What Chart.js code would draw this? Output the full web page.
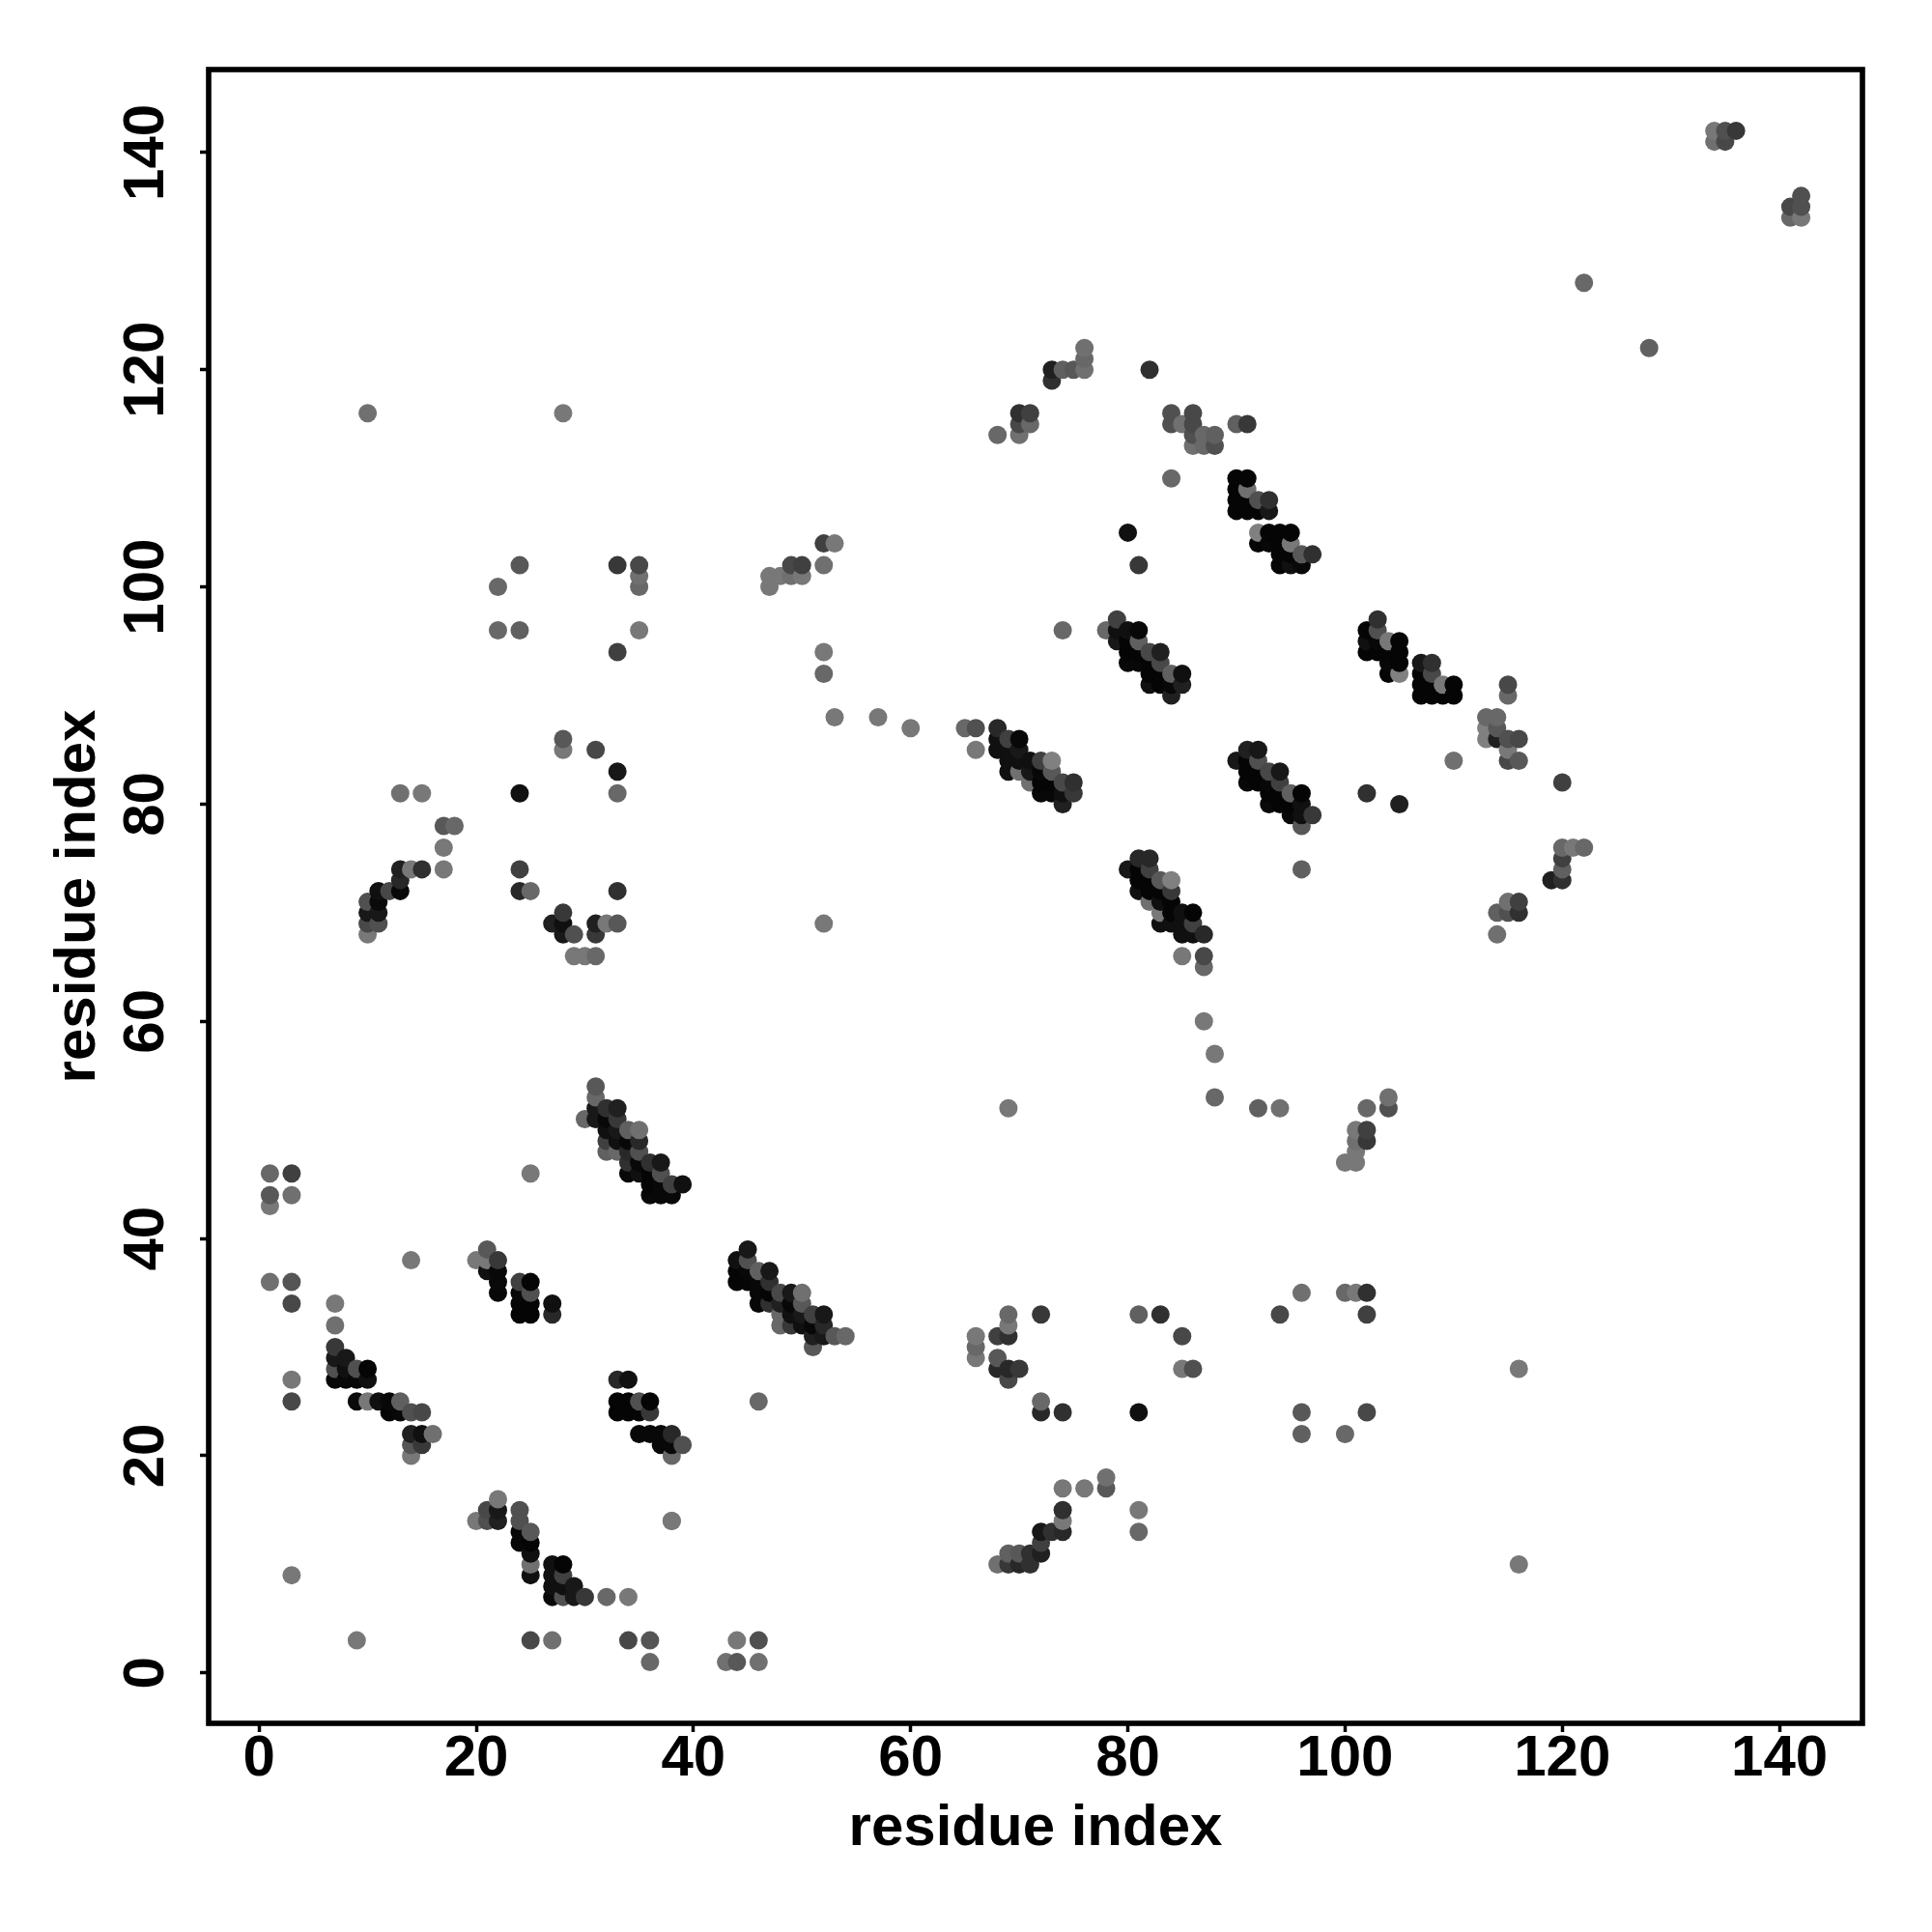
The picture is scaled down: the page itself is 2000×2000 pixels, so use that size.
<!DOCTYPE html>
<html>
<head>
<meta charset="utf-8">
<title>residue contact map</title>
<script src="https://cdn.jsdelivr.net/npm/chart.js@4/dist/chart.umd.min.js"></script>
<style>
  html, body { margin: 0; padding: 0; background: #fff; }
  canvas { display: block; }
</style>
</head>
<body>
<canvas id="chart" width="2000" height="2000"></canvas>
<script>
// contacts, one line per group of dots
const contactX = [
  1,1,1,1,3,3,3,3,3,3,3,
  7,7,7,7,8,7,8,9,10,7,8,9,10,9,10,11,12,13,12,13,14,15,14,15,16,14,15,14,14,9,
  20,21,22,21,21,22,22,22,24,25,24,25,24,25,24,25,27,27,
  33,34,33,34,35,36,33,34,35,36,35,36,37,38,37,38,39,38,38,
  22,21,22,20,21,22,24,24,25,24,24,25,25,25,25,
  27,28,27,28,27,28,29,27,28,29,30,32,34,25,27,34,36,36,
  31,31,30,31,31,32,33,32,33,32,33,34,35,32,33,34,35,32,33,34,35,34,35,36,37,34,35,36,37,36,37,38,39,36,37,38,
  45,44,45,46,47,44,45,44,45,46,47,46,47,48,49,50,46,47,48,49,50,48,49,50,51,52,48,49,50,51,52,51,52,53,54,51,
  28,28,31,33,33,24,13,15,17,18,17,17,13,14,15,13,13,12,11,11,10,10,11,10,11,10,
  24,24,25,33,28,27,28,28,29,31,32,33,31,29,30,31,
  10,28,22,24,22,24,33,35,35,35,35,33,
  47,47,48,49,49,50,50,52,53,52,52,52,53,57,60,52,
  65,66,66,68,69,70,68,68,69,70,69,70,71,72,73,69,70,71,72,73,71,72,73,74,75,72,73,74,75,74,
  81,82,80,81,82,81,82,83,84,81,82,83,84,82,83,84,83,84,85,86,83,84,85,86,85,86,87,85,87,87,87,88,
  90,91,92,91,92,91,92,93,94,91,92,93,94,93,94,95,96,93,94,95,96,95,96,97,96,96,
  74,78,79,79,80,81,79,80,81,80,81,82,83,80,81,82,83,82,83,84,85,82,83,84,85,84,81,80,
  90,91,90,91,90,91,92,93,90,91,92,93,
  92,93,94,95,92,93,94,95,94,95,96,97,94,95,96,
  103,102,103,102,103,104,105,102,103,104,105,104,105,104,105,
  107,108,107,108,107,108,109,110,107,108,109,110,
  115,115,113,114,113,114,113,114,115,116,115,115,116,110,120,102,105,
  120,121,122,120,120,119,120,114,114,115,115,116,116,
  116,116,122,128,134,135,136,134,135,141,142,142,141,142,
  68,70,70,71,70,71,73,73,74,75,76,76,76,82,
  84,86,84,85,86,86,87,88,86,87,88,90,91,84,
  69,88,92,94,100,101,101,101,101,102,102,102,104,104,
  100,101,102,102,94,96,102,96,96,100,81,83,85,85,86,81,
  72,69,69,68,69,66,66,66,68,68,69,70,69,72,72,74,46,
  74,76,78,78,81,81,74,74,74,72,73,72,72,71,71,70,69,68,69,70,
  25,38,43,44,44,46,46
];
const contactY = [
  46,44,43,36,46,44,36,34,27,25,9,
  34,32,30,29,29,28,28,28,28,27,27,27,27,25,25,25,25,25,24,24,24,24,22,22,22,21,21,20,38,3,
  38,39,38,38,37,37,36,35,36,36,35,35,34,34,33,33,34,33,
  27,27,25,25,25,25,24,24,24,24,22,22,22,22,21,21,21,20,14,
  16,15,15,14,14,14,15,14,13,13,12,12,11,10,9,
  10,10,9,9,8,8,8,7,7,7,7,7,7,3,3,3,3,1,
  54,53,51,52,51,52,52,51,51,50,50,50,50,49,49,49,49,48,48,48,48,47,47,47,47,46,46,46,46,45,45,45,45,44,44,44,
  39,38,38,37,37,37,37,36,36,36,36,35,35,35,35,35,34,34,34,34,34,33,33,33,33,33,32,32,32,32,32,31,31,31,31,30,
  86,85,85,83,81,81,81,81,78,78,76,74,74,74,74,73,72,72,72,71,71,70,70,69,69,68,
  74,72,72,72,70,69,69,68,68,69,69,69,68,66,66,66,
  116,116,100,102,96,96,102,102,101,100,96,94,
  100,101,101,102,101,102,101,104,104,102,94,92,88,88,87,69,
  87,87,85,87,86,86,86,85,85,85,84,84,84,84,84,83,83,83,83,83,82,82,82,82,82,81,81,81,81,80,
  75,75,74,74,74,73,73,73,73,72,72,72,72,71,71,71,70,70,70,70,69,69,69,69,68,68,68,66,66,65,60,57,
  84,85,85,84,84,83,83,83,83,82,82,82,82,81,81,81,81,80,80,80,80,79,79,79,78,74,
  96,96,97,96,96,96,95,95,95,94,94,94,94,93,93,93,93,92,92,92,92,91,91,91,91,90,102,105,
  110,110,109,109,108,108,108,108,107,107,107,107,
  105,105,105,105,104,104,104,104,103,103,103,103,102,102,102,
  97,96,96,95,95,95,95,94,94,94,94,93,93,92,92,
  93,93,92,92,91,91,91,91,90,90,90,90,
  91,90,88,88,87,87,86,86,86,86,85,84,84,84,82,81,80,
  76,76,76,75,74,73,73,68,70,71,70,71,70,
  28,10,128,122,142,142,142,141,141,135,136,135,134,134,
  114,114,115,115,116,116,119,120,120,120,120,121,122,120,
  116,116,115,115,115,114,114,114,113,113,113,115,115,110,
  52,53,52,52,47,47,49,50,48,50,49,52,53,52,
  35,35,35,33,33,35,24,24,22,22,33,33,31,28,28,24,
  33,33,32,31,31,31,30,29,29,28,28,28,27,25,24,24,25,
  17,17,18,17,15,13,15,14,13,13,13,12,11,11,10,11,11,10,10,10,
  46,14,1,1,3,3,1
];
const contactGrey = [
  0x68,0x58,0x78,0x70,0x40,0x70,0x55,0x48,0x78,0x48,0x78,
  0x78,0x70,0x38,0x18,0x18,0x50,0x10,0x50,0x05,0x08,0x08,0x08,0x10,0x0a,0x78,0x10,0x08,0x60,0x05,0x08,0x50,0x48,0x20,0x10,0x70,0x55,0x38,0x78,0x78,0x78,
  0x78,0x58,0x38,0x78,0x10,0x08,0x0a,0x08,0x40,0x05,0x08,0x50,0x05,0x05,0x05,0x05,0x10,0x28,
  0x28,0x10,0x05,0x05,0x50,0x05,0x05,0x05,0x05,0x38,0x08,0x08,0x08,0x28,0x08,0x08,0x50,0x68,0x78,
  0x78,0x48,0x18,0x78,0x50,0x20,0x50,0x50,0x58,0x08,0x08,0x05,0x10,0x70,0x10,
  0x10,0x05,0x10,0x40,0x10,0x10,0x18,0x0a,0x50,0x18,0x38,0x68,0x78,0x48,0x70,0x48,0x55,0x68,
  0x58,0x68,0x68,0x18,0x18,0x30,0x20,0x08,0x38,0x10,0x18,0x60,0x70,0x40,0x10,0x08,0x28,0x60,0x68,0x28,0x50,0x30,0x08,0x30,0x18,0x08,0x10,0x05,0x50,0x05,0x08,0x40,0x10,0x08,0x08,0x08,
  0x18,0x10,0x50,0x60,0x18,0x05,0x08,0x05,0x05,0x08,0x30,0x08,0x05,0x48,0x18,0x70,0x08,0x30,0x20,0x08,0x58,0x68,0x10,0x18,0x40,0x18,0x68,0x38,0x10,0x08,0x28,0x20,0x18,0x58,0x68,0x58,
  0x58,0x78,0x48,0x18,0x68,0x10,0x70,0x78,0x58,0x68,0x78,0x78,0x20,0x78,0x30,0x28,0x08,0x48,0x10,0x0a,0x50,0x18,0x18,0x48,0x50,0x78,
  0x40,0x28,0x68,0x30,0x38,0x20,0x10,0x18,0x50,0x20,0x78,0x58,0x38,0x78,0x78,0x68,
  0x70,0x78,0x68,0x58,0x68,0x60,0x38,0x48,0x70,0x68,0x78,0x40,
  0x78,0x78,0x78,0x48,0x70,0x40,0x78,0x40,0x78,0x70,0x78,0x68,0x78,0x78,0x78,0x78,
  0x68,0x50,0x78,0x28,0x40,0x08,0x10,0x10,0x10,0x18,0x10,0x10,0x10,0x40,0x80,0x10,0x70,0x18,0x08,0x58,0x70,0x05,0x05,0x48,0x30,0x08,0x08,0x10,0x38,0x20,
  0x28,0x28,0x18,0x05,0x40,0x05,0x05,0x58,0x80,0x10,0x05,0x05,0x38,0x70,0x10,0x05,0x78,0x05,0x10,0x05,0x10,0x10,0x10,0x40,0x10,0x10,0x28,0x78,0x48,0x68,0x78,0x78,
  0x18,0x20,0x18,0x05,0x50,0x05,0x05,0x48,0x18,0x08,0x05,0x08,0x40,0x05,0x05,0x60,0x05,0x0a,0x05,0x05,0x10,0x08,0x10,0x38,0x58,0x60,
  0x68,0x68,0x40,0x10,0x10,0x08,0x18,0x05,0x60,0x05,0x05,0x48,0x20,0x08,0x08,0x05,0x48,0x05,0x05,0x60,0x10,0x10,0x05,0x08,0x20,0x20,0x38,0x10,
  0x05,0x05,0x05,0x70,0x05,0x05,0x50,0x30,0x05,0x05,0x05,0x18,
  0x80,0x05,0x05,0x05,0x05,0x08,0x05,0x78,0x05,0x05,0x58,0x30,0x05,0x10,0x08,
  0x30,0x05,0x50,0x10,0x08,0x78,0x05,0x05,0x05,0x05,0x05,0x08,0x05,0x05,0x80,
  0x18,0x30,0x05,0x48,0x05,0x05,0x78,0x05,0x05,0x05,0x05,0x05,
  0x48,0x68,0x68,0x68,0x80,0x58,0x80,0x20,0x50,0x48,0x78,0x48,0x58,0x70,0x40,0x30,0x20,
  0x68,0x78,0x68,0x40,0x60,0x20,0x30,0x70,0x60,0x70,0x50,0x40,0x30,
  0x78,0x78,0x68,0x60,0x78,0x50,0x38,0x70,0x48,0x48,0x50,0x50,0x68,0x78,
  0x68,0x70,0x48,0x68,0x30,0x40,0x30,0x20,0x60,0x58,0x70,0x68,0x70,0x30,
  0x50,0x48,0x50,0x70,0x48,0x50,0x68,0x60,0x70,0x68,0x50,0x60,0x38,0x68,
  0x78,0x68,0x60,0x70,0x78,0x78,0x70,0x78,0x78,0x40,0x38,0x68,0x70,0x50,
  0x68,0x78,0x30,0x40,0x48,0x70,0x48,0x58,0x60,0x68,0x60,0x30,0x48,0x78,0x50,0x10,
  0x38,0x68,0x78,0x40,0x30,0x78,0x68,0x78,0x58,0x28,0x28,0x38,0x48,0x68,0x28,0x30,0x68,
  0x78,0x78,0x70,0x58,0x78,0x68,0x30,0x78,0x28,0x18,0x30,0x40,0x20,0x30,0x30,0x58,0x60,0x70,0x38,0x28,
  0x78,0x78,0x70,0x58,0x78,0x50,0x70
];
const tickValues = [0, 20, 40, 60, 80, 100, 120, 140];
const axisLabel = 'residue index';

// the later dot is painted over the earlier one: left to right, then bottom to top
const order = contactX.map((_, i) => i).sort((a, b) => contactX[a] - contactX[b] || contactY[a] - contactY[b]);
const points = order.map(i => ({ x: contactX[i], y: contactY[i] }));
const colors = order.map(i => 'rgb(' + contactGrey[i] + ',' + contactGrey[i] + ',' + contactGrey[i] + ')');

const axisFont = { family: '"Liberation Sans", Arial, sans-serif', size: 60, weight: 'bold' };

function axisOptions(titlePadding, extra) {
  return Object.assign({
    type: 'linear',
    min: -4.64,
    max: 147.64,
    afterBuildTicks: axis => { axis.ticks = tickValues.map(v => ({ value: v })); },
    border: { display: false },
    grid: { drawOnChartArea: false, drawTicks: true, tickLength: 9, tickWidth: 3.5, tickColor: '#000' },
    title: { display: true, text: axisLabel, color: '#000', font: axisFont, padding: titlePadding }
  }, extra);
}

const frame = {
  id: 'frame',
  afterDraw(chart) {
    const a = chart.chartArea;
    const ctx = chart.ctx;
    ctx.save();
    ctx.lineWidth = 5.6;
    ctx.strokeStyle = '#000';
    ctx.strokeRect(a.left, a.top, a.right - a.left, a.bottom - a.top);
    ctx.restore();
  }
};

new Chart(document.getElementById('chart'), {
  type: 'scatter',
  data: {
    datasets: [{
      data: points,
      pointBackgroundColor: colors,
      pointBorderWidth: 0,
      pointRadius: 9.5,
      clip: false
    }]
  },
  options: {
    responsive: false,
    animation: false,
    layout: { padding: { left: 0, top: 72, right: 72, bottom: 0 } },
    plugins: { legend: { display: false }, tooltip: { enabled: false } },
    scales: {
      x: axisOptions({ top: 0, bottom: 71 }, {
        position: 'bottom',
        afterFit: axis => { axis.height = 216; },
        ticks: { color: '#000', font: axisFont, maxRotation: 0, minRotation: 0, padding: -8, autoSkip: false }
      }),
      y: axisOptions({ top: 45, bottom: 0 }, {
        position: 'left',
        afterFit: axis => { axis.width = 216; },
        ticks: { color: '#000', font: axisFont, maxRotation: 90, minRotation: 90, padding: 4, autoSkip: false, crossAlign: 'center' }
      })
    }
  },
  plugins: [frame]
});
</script>
</body>
</html>
